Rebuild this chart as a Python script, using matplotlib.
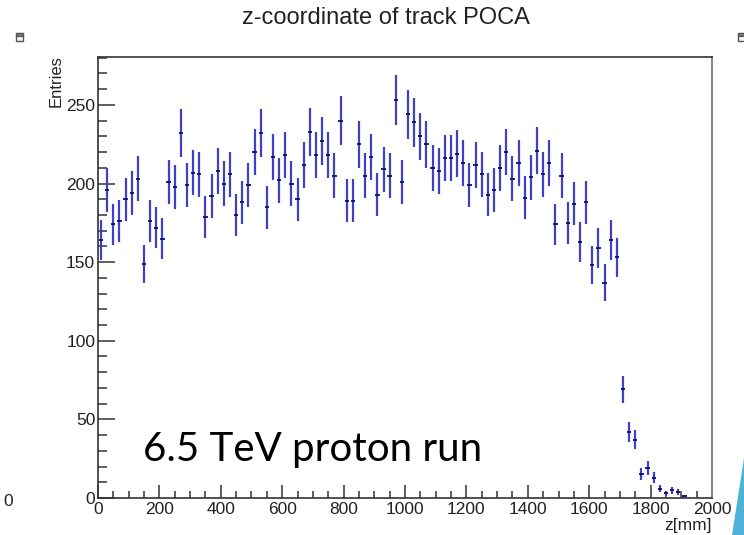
import numpy as np
import matplotlib
matplotlib.use("Agg")
import matplotlib.pyplot as plt
from matplotlib.patches import Polygon, Rectangle

# histogram: 20 mm bins, centres 10 .. 1910
bin_centres = np.arange(10, 1930, 20)
counts = [164, 196, 174, 176, 190, 194, 203, 149, 176, 172,
          165, 201, 198, 232, 199, 207, 206, 179, 192, 208,
          200, 206, 180, 188, 199, 220, 232, 185, 217, 202,
          218, 200, 190, 212, 233, 218, 227, 218, 205, 240,
          189, 189, 225, 205, 217, 193, 209, 205, 253, 201,
          244, 239, 230, 225, 210, 208, 216, 216, 219, 213,
          199, 212, 206, 193, 196, 210, 220, 203, 213, 191,
          204, 221, 206, 213, 174, 205, 175, 187, 163, 188,
          148, 159, 137, 164, 153, 69, 42, 37, 15, 19,
          13, 6, 3, 5, 4, 1]
counts = np.array(counts)
errors = np.sqrt(counts)

xticks = [0, 200, 400, 600, 800, 1000, 1200, 1400, 1600, 1800, 2000]
yticks = [0, 50, 100, 150, 200, 250]

plt.rcParams['font.family'] = ['Liberation Sans', 'DejaVu Sans']

fig = plt.figure(figsize=(7.44, 5.35), dpi=100)
ax = fig.add_axes([0.1317, 0.0692, 0.8253, 0.8243])

ax.errorbar(bin_centres, counts, yerr=errors, fmt='none',
            ecolor=(0.25, 0.25, 0.78), elinewidth=1.6, capsize=0)
ax.errorbar(bin_centres, counts, xerr=7, fmt='none',
            ecolor=(0.05, 0.05, 0.45), elinewidth=1.3, capsize=0)

ax.set_xlim(0, 2000)
ax.set_ylim(0, 280.5)
ax.set_xticks(xticks)
ax.set_yticks(yticks)
ax.set_xticks(np.arange(0, 2001, 50), minor=True)
ax.set_yticks(np.arange(0, 281, 10), minor=True)

ax.tick_params(axis='both', which='both', direction='in', colors='#333333',
               labelcolor='#222222', labelsize=12.5, width=1.1)
ax.tick_params(axis='y', which='major', length=12, pad=2)
ax.tick_params(axis='y', which='minor', length=6.5)
ax.tick_params(axis='x', which='major', length=9.5, pad=3)
ax.tick_params(axis='x', which='minor', length=5)

for s in ['left', 'bottom', 'top']:
    ax.spines[s].set_color('#333333')
    ax.spines[s].set_linewidth(1.2)
ax.spines['right'].set_color('#888888')
ax.spines['right'].set_linewidth(1.5)

fig.text(56 / 744, 1 - 55 / 535, 'Entries', rotation=90, ha='center', va='top',
         fontsize=12, color='#222222')
fig.text(712 / 744, 1 - 518 / 535, 'z[mm]', ha='right', va='top',
         fontsize=12.5, color='#222222')

fig.text(386 / 744, 1 - 18 / 535, 'z-coordinate of track POCA', ha='center',
         va='center', fontsize=17, color='#222222')

ax.text(0.073, 0.11, '6.5 TeV proton run', transform=ax.transAxes,
        fontsize=29, family=['Lato', 'DejaVu Sans'], color='black',
        ha='left', va='center')

# stray slide bits
fig.text(8 / 744, 1 - 502 / 535, '0', ha='center', va='center', fontsize=12.5,
         color='#222222')
for x0 in [16, 738]:
    fig.patches.append(Rectangle((x0 / 744, 1 - 41 / 535), 7 / 744, 8 / 535,
                                 transform=fig.transFigure, facecolor='#f4f4f4',
                                 edgecolor='#555555', lw=1.0))
    fig.patches.append(Rectangle((x0 / 744, 1 - 36 / 535), 7 / 744, 3 / 535,
                                 transform=fig.transFigure, facecolor='#777777',
                                 edgecolor='#555555', lw=0.8))
fig.patches.append(Polygon([(744 / 744, 1 - 458 / 535), (732 / 744, 0),
                            (744 / 744, 0)], closed=True,
                           transform=fig.transFigure, facecolor='#4fb3d9',
                           edgecolor='none'))

fig.savefig('out.png', dpi=100)
